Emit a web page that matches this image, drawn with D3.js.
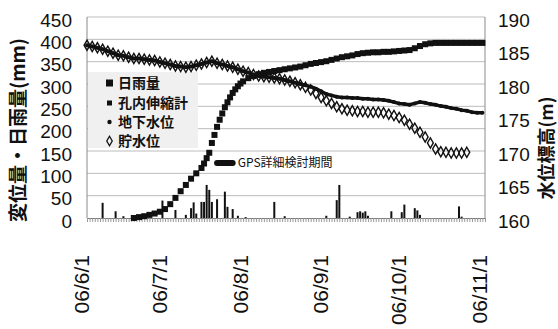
<!DOCTYPE html>
<html>
<head>
<meta charset="utf-8">
<script src="https://cdn.jsdelivr.net/npm/d3@7"></script>
<style>
body { margin: 0; background: #fff; }
svg { display: block; }
text { font-family: "Liberation Sans", Arial, sans-serif; fill: #111; }
.jp { font-family: "Noto Sans CJK JP", sans-serif; }
</style>
</head>
<body>
<div id="chart-area"></div>
<script>
// daily rainfall (mm)
const rainDates = ['6/7','6/12','6/15','6/30','7/5','7/9','7/11','7/12','7/13','7/15','7/16','7/17','7/18','7/19',
  '7/21','7/24','7/25','7/27','7/29','8/1','8/12','8/16','9/1','9/5','9/6','9/10','9/13','9/14','9/15','9/16',
  '9/17','9/26','9/30','10/1','10/5','10/6','10/7','10/22','10/23']
const rainValues = [34,15,4,39,18,7,22,35,10,36,36,74,63,36,
  42,59,25,20,5,2,36,4,5,40,74,3,13,15,12,15,
  5,15,13,30,22,17,7,26,3]

// borehole extensometer (mm)
const extDates = ['6/19','6/21','6/23','6/25','6/27','6/29','7/1','7/3','7/5','7/7','7/9','7/11','7/13','7/15',
  '7/16','7/17','7/18','7/19','7/20','7/21','7/22','7/23','7/24','7/25','7/26','7/27','7/28','7/29','7/30','7/31',
  '8/2','8/4','8/6','8/8','8/10','8/12','8/14','8/16','8/18','8/20','8/22','8/24','8/26','8/28','8/30',
  '9/1','9/3','9/5','9/7','9/9','9/11','9/13','9/15','9/17','9/19','9/21','9/23','9/25','9/27','9/29',
  '10/1','10/3','10/5','10/7','10/9','10/11','10/13','10/15','10/17','10/19','10/21','10/23','10/25','10/27','10/29','10/31']
const extValues = [0,2,4,7,10,14,20,31,45,60,74,88,100,112,
  122,134,146,168,186,204,220,234,248,259,270,280,288,295,301,306,
  313,318,322,325,327,329,331,333,335,337,339,342,345,347,349,
  351,354,357,360,362,364,367,369,370,371,371,372,372,373,374,
  375,376,380,385,389,391,392,392,392,392,392,392,392,392,392,392]

// groundwater level (m)
const gwDates = ['6/1','6/3','6/5','6/7','6/9','6/11','6/13','6/15','6/17','6/19','6/21','6/23','6/25','6/27','6/29',
  '7/1','7/3','7/5','7/7','7/9','7/11','7/13','7/15','7/17','7/19','7/21','7/23','7/25','7/27','7/29','7/31',
  '8/2','8/4','8/6','8/8','8/10','8/12','8/14','8/16','8/18','8/20','8/22','8/24','8/26','8/28','8/30',
  '9/1','9/3','9/5','9/7','9/9','9/11','9/13','9/15','9/17','9/19','9/21','9/23','9/25','9/27','9/29',
  '10/1','10/3','10/5','10/7','10/9','10/11','10/13','10/15','10/17','10/19','10/21','10/23','10/25','10/27','10/29','10/31']
const gwValues = [185.8,185.6,185.4,185.2,184.9,184.6,184.3,184.2,184.0,183.8,183.8,183.7,183.6,183.5,183.3,
  183.1,182.9,182.7,182.6,182.5,182.6,182.8,183.0,183.2,183.4,183.1,182.9,182.7,182.5,182.2,181.9,
  181.7,181.4,181.2,181.1,181.0,180.9,180.8,180.6,180.4,180.2,180.0,179.8,179.6,179.3,178.9,
  178.5,178.3,178.1,178.0,178.0,177.9,177.9,177.8,177.8,177.7,177.7,177.6,177.5,177.3,177.1,
  177.0,176.9,177.1,177.3,177.2,177.0,176.9,176.7,176.6,176.4,176.3,176.1,176.0,175.8,175.7,175.7]

// reservoir level (m)
const resDates = ['6/1','6/3','6/5','6/7','6/9','6/11','6/13','6/15','6/17','6/19','6/21','6/23','6/25','6/27','6/29',
  '7/1','7/3','7/5','7/7','7/9','7/11','7/13','7/15','7/17','7/19','7/21','7/23','7/25','7/27','7/29','7/31',
  '8/2','8/4','8/6','8/8','8/10','8/12','8/14','8/16','8/18','8/20','8/22','8/24','8/26','8/28','8/30',
  '9/1','9/3','9/5','9/7','9/9','9/11','9/13','9/15','9/17','9/19','9/21','9/23','9/25','9/27','9/29',
  '10/1','10/3','10/5','10/7','10/9','10/11','10/13','10/15','10/17','10/19','10/21','10/23','10/25']
const resValues = [185.8,185.6,185.4,185.2,184.9,184.6,184.3,184.2,184.0,183.8,183.8,183.7,183.6,183.5,183.3,
  183.1,182.9,182.7,182.6,182.5,182.6,182.8,183.0,183.2,183.4,183.1,182.9,182.7,182.5,182.2,181.9,
  181.7,181.4,181.2,181.1,181.0,180.9,180.8,180.6,180.4,180.2,179.9,179.5,179.1,178.6,178.0,
  177.5,177.1,176.6,176.3,176.1,176.0,175.9,175.9,175.8,175.8,175.8,175.7,175.5,175.3,175.0,
  174.6,174.0,173.4,172.8,172.1,171.2,170.3,169.9,169.8,169.7,169.7,169.7,169.8]

// GPS detailed study period
const gpsDates = ['7/21','7/27']
const gpsValue = 123

const leftTicks = [0,50,100,150,200,250,300,350,400,450]
const rightTicks = [160,165,170,175,180,185,190]
const monthTicks = ['6/1','7/1','8/1','9/1','10/1','11/1']
const legendLabels = ['日雨量','孔内伸縮計','地下水位','貯水位']

const parse = s => {
  const [m, d] = s.split('/').map(Number)
  return new Date(2006, m - 1, d)
}

const margin = {top: 17, right: 73, bottom: 111, left: 87}
const width = 558 - margin.left - margin.right
const height = 329 - margin.top - margin.bottom

const svg = d3.select('#chart-area')
  .append('svg')
    .attr('width', 558)
    .attr('height', 329)

const g = svg.append('g')
  .attr('transform', `translate(${margin.left},${margin.top})`)

const x = d3.scaleTime()
  .domain([parse('6/1'), parse('11/1')])
  .range([0, width])

const y = d3.scaleLinear()
  .domain([0, 450])
  .range([height, 0])

const y2 = d3.scaleLinear()
  .domain([160, 190])
  .range([height, 0])

// gridlines
g.append('g')
  .selectAll('line')
  .data(leftTicks.slice(1))
  .enter().append('line')
    .attr('x1', 0).attr('x2', width)
    .attr('y1', d => y(d)).attr('y2', d => y(d))
    .attr('stroke', '#bcbcbc')

// axes frame
g.append('line').attr('x1', 0).attr('x2', 0).attr('y1', 0).attr('y2', height).attr('stroke', '#8a8a8a')
g.append('line').attr('x1', width).attr('x2', width).attr('y1', 0).attr('y2', height).attr('stroke', '#8a8a8a')

const xAxisCall = d3.axisBottom(x)
  .ticks(d3.timeDay.every(1))
  .tickSize(4)
  .tickFormat('')
const xAxisGroup = g.append('g')
  .attr('transform', `translate(0,${height})`)
  .call(xAxisCall)
xAxisGroup.select('.domain').attr('stroke', '#777')
xAxisGroup.selectAll('.tick line').attr('stroke', '#999')

// tick labels
g.selectAll('.ylab')
  .data(leftTicks)
  .enter().append('text')
    .attr('class', 'ylab')
    .attr('x', -15)
    .attr('y', d => y(d))
    .attr('dy', '0.5em')
    .attr('text-anchor', 'end')
    .attr('font-size', '19px')
    .text(d => d)

g.selectAll('.y2lab')
  .data(rightTicks)
  .enter().append('text')
    .attr('class', 'y2lab')
    .attr('x', width + 13)
    .attr('y', d => y2(d))
    .attr('dy', '0.5em')
    .attr('font-size', '19px')
    .text(d => d)

g.selectAll('.xlab')
  .data(monthTicks)
  .enter().append('text')
    .attr('class', 'xlab')
    .attr('transform', d => `translate(${x(parse(d)) + 2},${height + 37}) rotate(-90)`)
    .attr('text-anchor', 'end')
    .attr('font-size', '21px')
    .text(d => '06/' + d)

// axis titles
svg.append('text')
  .attr('class', 'jp')
  .attr('transform', 'translate(25,130) rotate(-90)')
  .attr('text-anchor', 'middle')
  .attr('font-size', '19px')
  .attr('font-weight', 'bold')
  .text('変位量・日雨量(mm)')

svg.append('text')
  .attr('class', 'jp')
  .attr('transform', 'translate(553,148) rotate(-90)')
  .attr('text-anchor', 'middle')
  .attr('font-size', '18px')
  .attr('font-weight', 'bold')
  .text('水位標高(m)')

// legend
const legend = g.append('g').attr('transform', 'translate(1,55)')
legend.append('rect')
  .attr('width', 110).attr('height', 76)
  .attr('fill', '#f0f0f0')

const legendRows = [11, 31, 50, 69]
legend.selectAll('.ltext')
  .data(legendLabels)
  .enter().append('text')
    .attr('class', 'jp ltext')
    .attr('x', 30)
    .attr('y', (d, i) => legendRows[i])
    .attr('dy', '0.36em')
    .attr('font-size', '14px')
    .attr('font-weight', 'bold')
    .text(d => d)
legend.append('rect').attr('x', 18).attr('y', legendRows[0] - 3.5).attr('width', 7).attr('height', 7).attr('fill', '#111')
legend.append('rect').attr('x', 19).attr('y', legendRows[1] - 2.5).attr('width', 5).attr('height', 5).attr('fill', '#111')
legend.append('circle').attr('cx', 21.5).attr('cy', legendRows[2]).attr('r', 2.2).attr('fill', '#111')
legend.append('path')
  .attr('d', d3.symbol(d3.symbolDiamond, 26)())
  .attr('transform', `translate(21.5,${legendRows[3]})`)
  .attr('fill', 'none').attr('stroke', '#111').attr('stroke-width', 1.3)

// rain bars
g.selectAll('.bar')
  .data(rainDates.map((d, i) => ({date: parse(d), v: rainValues[i]})))
  .enter().append('rect')
    .attr('class', 'bar')
    .attr('x', d => x(d.date) - 1)
    .attr('y', d => y(d.v))
    .attr('width', 2)
    .attr('height', d => height - y(d.v))
    .attr('fill', '#111')

// reservoir (drawn under the groundwater where they overlap)
g.selectAll('.res')
  .data(resDates.map((d, i) => ({date: parse(d), v: resValues[i]})))
  .enter().append('path')
    .attr('class', 'res')
    .attr('d', d3.symbol(d3.symbolDiamond, 30)())
    .attr('transform', d => `translate(${x(d.date)},${y2(d.v)})`)
    .attr('fill', 'none')
    .attr('stroke', '#111')
    .attr('stroke-width', 1.4)

// groundwater
const gwData = gwDates.map((d, i) => ({date: parse(d), v: gwValues[i]}))
g.append('path')
  .datum(gwData)
  .attr('d', d3.line().x(d => x(d.date)).y(d => y2(d.v)))
  .attr('fill', 'none')
  .attr('stroke', '#111')
  .attr('stroke-width', 3.5)
g.selectAll('.gw')
  .data(gwData)
  .enter().append('circle')
    .attr('class', 'gw')
    .attr('cx', d => x(d.date))
    .attr('cy', d => y2(d.v))
    .attr('r', 2)
    .attr('fill', '#111')

// extensometer
g.selectAll('.ext')
  .data(extDates.map((d, i) => ({date: parse(d), v: extValues[i]})))
  .enter().append('rect')
    .attr('class', 'ext')
    .attr('x', d => x(d.date) - 3)
    .attr('y', d => y(d.v) - 3)
    .attr('width', 6)
    .attr('height', 6)
    .attr('fill', '#111')

// GPS period marker
g.append('line')
  .attr('x1', x(parse(gpsDates[0])))
  .attr('x2', x(parse(gpsDates[1])))
  .attr('y1', y(gpsValue))
  .attr('y2', y(gpsValue))
  .attr('stroke', '#111')
  .attr('stroke-width', 6)
  .attr('stroke-linecap', 'round')
g.append('text')
  .attr('class', 'jp')
  .attr('x', x(parse(gpsDates[1])) + 5)
  .attr('y', y(gpsValue))
  .attr('dy', '0.36em')
  .attr('font-size', '12px')
  .text('GPS詳細検討期間')
</script>
</body>
</html>
